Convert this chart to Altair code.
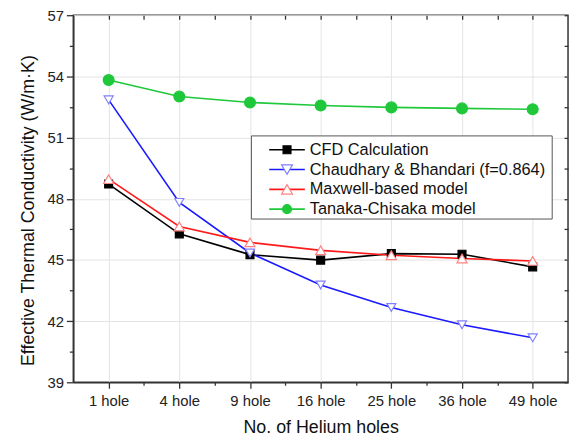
import json
import altair as alt
import pandas as pd

categories = ["1 hole", "4 hole", "9 hole", "16 hole", "25 hole", "36 hole", "49 hole"]
series_names = ["CFD Calculation", "Chaudhary & Bhandari (f=0.864)", "Maxwell-based model", "Tanaka-Chisaka model"]
cfd = [48.72, 46.28, 45.26, 44.99, 45.31, 45.28, 44.66]
chaudhary = [52.85, 47.82, 45.34, 43.77, 42.67, 41.82, 41.18]
maxwell = [48.96, 46.64, 45.86, 45.47, 45.23, 45.07, 44.95]
tanaka = [53.82, 53.01, 52.72, 52.57, 52.48, 52.43, 52.39]

line_colors = ["#000000", "#1a1aff", "#ff1a1a", "#1fc83a"]
marker_shapes = ["square", "triangle-down", "triangle-up", "circle"]
marker_fills = ["#000000", "#ffffff", "#ffffff", "#1fc83a"]
marker_strokes = ["#000000", "#8080ff", "#ff8080", "#1fc83a"]
marker_sizes = [64, 121, 121, 81]

rows = []
for name, vals in zip(series_names, [cfd, chaudhary, maxwell, tanaka]):
    for i, v in enumerate(vals):
        rows.append({"idx": i, "series": name, "value": v})
df = pd.DataFrame(rows)

FONT = "Liberation Sans"
x_scale = alt.Scale(domain=[-0.5, 6.5], nice=False, zero=False)
y_scale = alt.Scale(domain=[39, 57], nice=False, zero=False)
x_vals = [i * 0.5 for i in range(13)]
y_vals = [39 + 1.5 * i for i in range(13)]

x_axis = alt.Axis(
    values=x_vals,
    labelExpr="datum.value % 1 === 0 ? " + json.dumps(categories) + "[datum.value] : ''",
    title="No. of Helium holes",
    tickSize={"condition": {"test": "datum.value % 1 !== 0", "value": 3}, "value": 6},
    gridOpacity={"condition": {"test": "datum.value % 1 !== 0", "value": 0}, "value": 1},
    grid=True, labelOverlap=False, labelPadding=5, titlePadding=11,
)
y_axis = alt.Axis(
    values=y_vals,
    labelExpr="datum.value % 3 === 0 ? datum.label : ''",
    title="Effective Thermal Conductivity (W/m·K)",
    tickSize={"condition": {"test": "datum.value % 3 !== 0", "value": 4}, "value": 7},
    gridOpacity={"condition": {"test": "datum.value % 3 !== 0", "value": 0}, "value": 1},
    grid=True, labelOverlap=False, labelPadding=3, titlePadding=10, titleY=197,
)

color_scale = alt.Scale(domain=series_names, range=line_colors)

lines = alt.Chart(df).mark_line(strokeWidth=1.6).encode(
    x=alt.X("idx:Q", scale=x_scale, axis=x_axis),
    y=alt.Y("value:Q", scale=y_scale, axis=y_axis),
    color=alt.Color("series:N", scale=color_scale, legend=None),
    order=alt.Order("idx:Q"),
)

points = alt.Chart(df).mark_point(filled=True, opacity=1, strokeWidth=1.2).encode(
    x=alt.X("idx:Q", scale=x_scale, axis=alt.Axis(orient="top", values=x_vals, labels=False, title=None,
                                                 grid=False, domain=False, tickSize={"expr": "-4"})),
    y=alt.Y("value:Q", scale=y_scale, axis=alt.Axis(orient="right", values=y_vals, labels=False, title=None,
                                                   grid=False, domain=False, tickSize={"expr": "-4"})),
    shape=alt.Shape("series:N", scale=alt.Scale(domain=series_names, range=marker_shapes), legend=None),
    fill=alt.Fill("series:N", scale=alt.Scale(domain=series_names, range=marker_fills), legend=None),
    stroke=alt.Stroke("series:N", scale=alt.Scale(domain=series_names, range=marker_strokes), legend=None),
    size=alt.Size("series:N", scale=alt.Scale(domain=series_names, range=marker_sizes), legend=None),
)

one = pd.DataFrame({"k": [0]})
legend_layers = [
    alt.Chart(one).mark_rect(fill="#ffffff", stroke="#555555", strokeWidth=1).encode(
        x=alt.value(180), x2=alt.value(484), y=alt.value(122), y2=alt.value(206)
    )
]
for i, name in enumerate(series_names):
    yy = 136 + 20 * i
    legend_layers.append(
        alt.Chart(one).mark_rule(color=line_colors[i], strokeWidth=1.6).encode(
            x=alt.value(198), x2=alt.value(234), y=alt.value(yy)
        )
    )
    legend_layers.append(
        alt.Chart(one).mark_point(filled=True, opacity=1, strokeWidth=1.2, shape=marker_shapes[i],
                                  fill=marker_fills[i], stroke=marker_strokes[i],
                                  size=marker_sizes[i]).encode(x=alt.value(216), y=alt.value(yy))
    )
    legend_layers.append(
        alt.Chart(one).mark_text(align="left", baseline="middle", fontSize=16.5, font=FONT,
                                 color="#111111").encode(
            x=alt.value(239), y=alt.value(yy), text=alt.value(name)
        )
    )

chart = alt.layer(lines, points, *legend_layers).resolve_axis(
    x="independent", y="independent"
).properties(
    width=500, height=371,
    autosize=alt.AutoSizeParams(type="none"),
    padding={"left": 66, "top": 5, "right": 2, "bottom": 52},
).configure_view(
    stroke="#333333", strokeWidth=1.5
).configure_axis(
    labelFont=FONT, titleFont=FONT, labelFontSize=15, titleFontSize=18,
    labelColor="#222222", titleColor="#111111", titleFontWeight="normal",
    domainColor="#333333", domainWidth=1.5, tickColor="#333333", tickWidth=1.3,
    gridColor="#e4e4e4", gridWidth=1,
)

chart.save("out.html", embed_options={"renderer": "svg", "actions": False})
